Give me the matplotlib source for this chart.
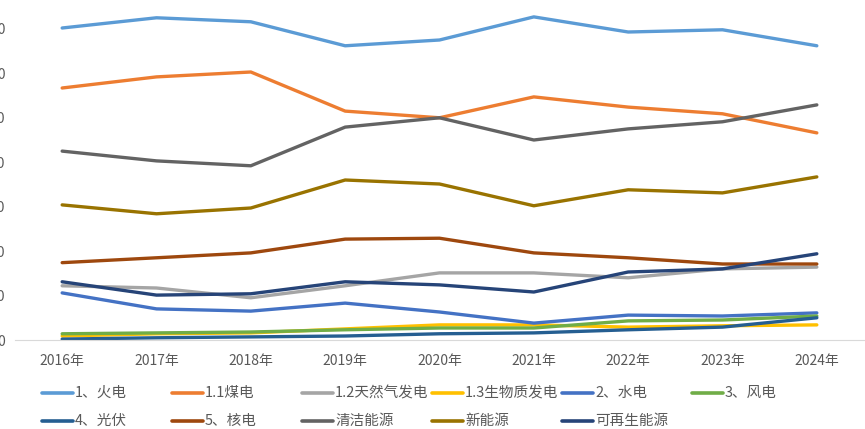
import matplotlib.pyplot as plt
from matplotlib.lines import Line2D

plt.rcParams["font.family"] = ["Noto Sans CJK SC", "DejaVu Sans"]

# 数据
years = ["2016年", "2017年", "2018年", "2019年", "2020年", "2021年", "2022年", "2023年", "2024年"]

huodian = [70.2, 72.5, 71.6, 66.2, 67.5, 72.7, 69.3, 69.8, 66.2]
meidian = [56.7, 59.2, 60.3, 51.5, 50.0, 54.7, 52.4, 50.9, 46.6]
tianranqi = [12.2, 11.7, 9.5, 12.2, 15.1, 15.1, 14.0, 16.0, 16.4]
shengwuzhi = [0.9, 1.4, 1.6, 2.5, 3.4, 3.4, 2.9, 3.2, 3.4]
shuidian = [10.6, 7.0, 6.5, 8.3, 6.3, 3.8, 5.6, 5.4, 6.1]
fengdian = [1.4, 1.6, 1.8, 2.3, 2.7, 2.7, 4.3, 4.5, 5.4]
guangfu = [0.2, 0.5, 0.7, 0.9, 1.4, 1.6, 2.3, 2.9, 5.0]
hedian = [17.4, 18.5, 19.6, 22.7, 22.9, 19.6, 18.5, 17.1, 17.1]
qingjie = [42.5, 40.3, 39.2, 47.9, 50.0, 45.0, 47.5, 49.1, 52.9]
xinnengyuan = [30.4, 28.4, 29.7, 36.0, 35.1, 30.2, 33.8, 33.1, 36.7]
kezaisheng = [13.1, 10.1, 10.4, 13.1, 12.4, 10.8, 15.3, 16.0, 19.4]

series = [
    ("1、火电", huodian, "#5B9BD5"),
    ("1.1煤电", meidian, "#ED7D31"),
    ("1.2天然气发电", tianranqi, "#A5A5A5"),
    ("1.3生物质发电", shengwuzhi, "#FFC000"),
    ("2、水电", shuidian, "#4472C4"),
    ("3、风电", fengdian, "#70AD47"),
    ("4、光伏", guangfu, "#255E91"),
    ("5、核电", hedian, "#9E480E"),
    ("清洁能源", qingjie, "#636363"),
    ("新能源", xinnengyuan, "#997300"),
    ("可再生能源", kezaisheng, "#264478"),
]

W, H = 865, 429
fig = plt.figure(figsize=(W / 100, H / 100), dpi=100)
ax = fig.add_axes([15 / W, 89 / H, 849 / W, 340 / H])

x = list(range(len(years)))
for name, vals, col in series:
    ax.plot(x, vals, color=col, linewidth=2.4, label=name, solid_capstyle="round")

ax.set_xlim(-0.5, len(years) - 0.5)
ax.set_ylim(0, 76.5)
ax.set_yticks(range(0, 80, 10))
ax.set_yticklabels([str(v) for v in range(0, 80, 10)])
ax.set_xticks(x)
ax.set_xticklabels(years)
ax.tick_params(axis="y", length=0, pad=7, labelsize=10, labelcolor="#595959")
ax.tick_params(axis="x", length=0, pad=10, labelsize=10, labelcolor="#595959")
for s in ["top", "right", "left"]:
    ax.spines[s].set_visible(False)
ax.spines["bottom"].set_color("#D9D9D9")

# 图例：两行，每列等宽（类似 Excel）
col_x0, col_w = 42, 130
row_y = [393, 421]
for i, (name, vals, col) in enumerate(series):
    r, c = divmod(i, 6)
    x0 = col_x0 + c * col_w
    y0 = H - row_y[r]
    fig.add_artist(Line2D([x0 / W, (x0 + 31) / W], [y0 / H, y0 / H],
                          color=col, linewidth=2.6, solid_capstyle="round"))
    fig.text((x0 + 33) / W, y0 / H, name, fontsize=10.5, color="#595959",
             va="center", ha="left")

fig.savefig("out.png", dpi=100)
